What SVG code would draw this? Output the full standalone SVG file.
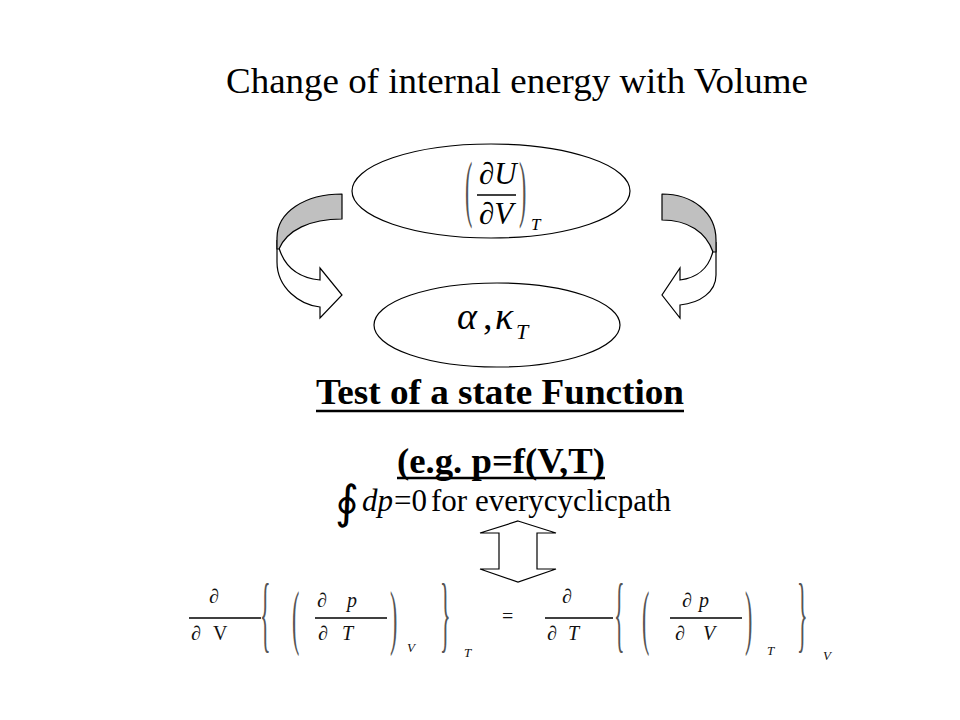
<svg xmlns="http://www.w3.org/2000/svg" width="960" height="720" viewBox="0 0 960 720">
<style>
  .serif { font-family: "Liberation Serif", "Times New Roman", serif; fill: #000; }
  .it { font-style: italic; }
  .bold { font-weight: bold; }
  .node { fill: #fff; stroke: #000; stroke-width: 1.2; }
  .band { fill: #c0c0c0; stroke: #000; stroke-width: 1.2; stroke-linejoin: round; }
  .arrow { fill: #fff; stroke: #000; stroke-width: 1.2; stroke-linejoin: miter; }
  .bar { stroke: #000; stroke-width: 1.3; }
  .delim { font-family: "Liberation Serif", "Times New Roman", serif; fill: #555; font-size: 22px; }
  .eq { font-family: "Liberation Serif", "Times New Roman", serif; font-size: 20px; fill: #111; }
  .sub { font-family: "Liberation Serif", "Times New Roman", serif; font-size: 13px; font-style: italic; fill: #111; }
</style>
<rect width="960" height="720" fill="#fff"/>

<g id="title">
  <text class="serif" x="226" y="93" font-size="36" textLength="582" lengthAdjust="spacingAndGlyphs">Change of internal energy with Volume</text>
</g>

<g id="connectors">
  <!-- left curved arrow -->
  <path class="arrow" d="M279,248 C285,268 300,278 320,280 L320,268 L342,295 L320,318 L320,307 C300,305 277,288 277,262 L277,240 Z"/>
  <path class="band" d="M342,194 C305,194 277,212 277,238 L277,249 L279,249 C287,230 310,219 342,219 Z"/>
  <!-- right curved arrow -->
  <path class="arrow" d="M713,251 C709,268 697,278 680,280 L680,268 L662,295 L680,318 L680,305 C700,303 716,292 716,275 L716,242 Z"/>
  <path class="band" d="M662,194 C692,194 716,212 716,240 L716,252 L713,252 C706,232 688,220 662,220 Z"/>
  <!-- double arrow -->
  <path class="arrow" d="M518,521 L556,533 L537,533 L537,569 L556,569 L518,582 L480,569 L499,569 L499,533 L480,533 Z"/>
</g>

<g id="node-dUdV">
  <ellipse class="node" cx="491" cy="191" rx="139" ry="47"/>
  <text class="delim" transform="translate(465,213) scale(1,3.4)">(</text>
  <text class="serif" x="479" y="184" font-size="31">∂<tspan class="it">U</tspan></text>
  <line class="bar" x1="477" y1="195" x2="516" y2="195"/>
  <text class="serif" x="479" y="224" font-size="31">∂<tspan class="it">V</tspan></text>
  <text class="delim" transform="translate(519,213) scale(1,3.4)">)</text>
  <text class="serif it" x="531" y="230" font-size="17">T</text>
</g>

<g id="node-alpha-kappa">
  <ellipse class="node" cx="497" cy="325" rx="123" ry="42"/>
  <text class="serif it" x="457" y="329" font-size="38">α</text>
  <text class="serif" x="483" y="329" font-size="38">,</text>
  <text class="serif it" x="495" y="329" font-size="38">κ</text>
  <text class="serif it" x="516" y="339" font-size="22">T</text>
</g>

<g id="test-label">
  <text class="serif bold" x="316" y="404" font-size="36" textLength="368" lengthAdjust="spacingAndGlyphs">Test of a state Function</text>
  <line x1="316" y1="411" x2="684" y2="411" stroke="#000" stroke-width="2.5"/>
  <text class="serif bold" x="397" y="473" font-size="36" textLength="208" lengthAdjust="spacingAndGlyphs">(e.g. p=f(V,T)</text>
  <line x1="397" y1="478" x2="605" y2="478" stroke="#000" stroke-width="2.5"/>
</g>

<g id="cyclic">
  <text x="335" y="518" font-family="DejaVu Serif, serif" font-size="46">∮</text>
  <text class="serif" x="362" y="511" font-size="31"><tspan class="it">dp</tspan><tspan dx="1">=</tspan><tspan>0</tspan><tspan dx="4">for everycyclicpath</tspan></text>
</g>

<g id="equation">
  <!-- left side -->
  <text class="eq" x="209" y="603">∂</text>
  <line class="bar" x1="189" y1="618" x2="261" y2="618"/>
  <text class="eq" x="191" y="640">∂</text>
  <text class="eq" x="213" y="640">V</text>
  <text class="delim" transform="translate(260,642) scale(1,3.8)">{</text>
  <text class="delim" transform="translate(292,641) scale(1,3.3)">(</text>
  <text class="eq" x="317" y="607">∂</text>
  <text class="eq" x="347" y="607" font-style="italic">p</text>
  <line class="bar" x1="315" y1="618" x2="387" y2="618"/>
  <text class="eq" x="318" y="640">∂</text>
  <text class="eq" x="342" y="640" font-style="italic">T</text>
  <text class="delim" transform="translate(390,641) scale(1,3.3)">)</text>
  <text class="sub" x="407" y="652">V</text>
  <text class="delim" transform="translate(440,642) scale(1,3.8)">}</text>
  <text class="sub" x="464" y="657">T</text>
  <text class="eq" x="502" y="623">=</text>
  <!-- right side -->
  <text class="eq" x="562" y="603">∂</text>
  <line class="bar" x1="545" y1="618" x2="613" y2="618"/>
  <text class="eq" x="547" y="640">∂</text>
  <text class="eq" x="568" y="640" font-style="italic">T</text>
  <text class="delim" transform="translate(614,642) scale(1,3.8)">{</text>
  <text class="delim" transform="translate(642,641) scale(1,3.3)">(</text>
  <text class="eq" x="682" y="607">∂</text>
  <text class="eq" x="699" y="607" font-style="italic">p</text>
  <line class="bar" x1="670" y1="618" x2="742" y2="618"/>
  <text class="eq" x="675" y="640">∂</text>
  <text class="eq" x="703" y="640" font-style="italic">V</text>
  <text class="delim" transform="translate(745,641) scale(1,3.3)">)</text>
  <text class="sub" x="767" y="655">T</text>
  <text class="delim" transform="translate(797,642) scale(1,3.8)">}</text>
  <text class="sub" x="823" y="660">V</text>
</g>
</svg>
